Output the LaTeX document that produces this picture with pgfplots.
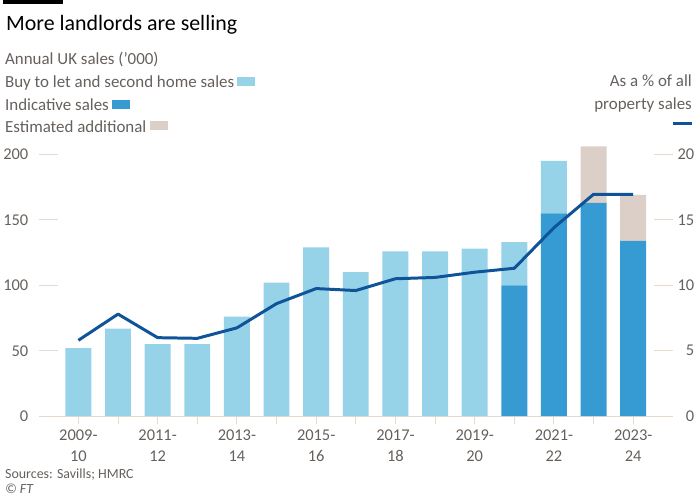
\documentclass[border=0pt]{standalone}
\usepackage{fontspec}
\setmainfont{Carlito}
\usepackage{pgfplots}
\pgfplotsset{compat=1.18}
\definecolor{ftgrey}{HTML}{66605C}
\definecolor{gridc}{HTML}{E6D9CE}
\definecolor{lblue}{HTML}{96D3E8}
\definecolor{dblue}{HTML}{379BD3}
\definecolor{beige}{HTML}{DCCFC7}
\definecolor{oxford}{HTML}{0F5499}
\newcommand{\yl}[2]{#1-\\[1pt]#2}
\begin{document}
\begin{tikzpicture}[x=1pt,y=1pt]
\path (0,0) rectangle (700,-500);
\fill[black] (0,0) rectangle (60,-4);
\node[anchor=base west, inner sep=0, font=\fontsize{22}{24}\selectfont] at (3,-31) {More landlords are selling};
\begin{scope}[every node/.style={anchor=base west, inner sep=0, text=ftgrey, font=\fontsize{17}{20}\selectfont}]
\node at (2,-65) {Annual UK sales ('000)};
\node (a) at (2,-87.5) {Buy to let and second home sales};
\node (b) at (2,-110.5) {Indicative sales};
\node (c) at (2,-133) {Estimated additional};
\end{scope}
\fill[lblue] (235,-77) rectangle (253,-86);
\fill[dblue] (110,-100) rectangle (128,-109);
\fill[beige] (148,-122) rectangle (166,-131);
\begin{scope}[every node/.style={anchor=base east, inner sep=0, text=ftgrey, font=\fontsize{17}{20}\selectfont}]
\node at (692,-87) {As a \% of all};
\node at (692,-110) {property sales};
\end{scope}
\draw[oxford, line width=3pt] (673,-124) -- (692,-124);
\node[anchor=base west, inner sep=0, text=ftgrey, font=\fontsize{14}{16}\selectfont] at (2,-481) {Sources: Savills; HMRC};
\node[anchor=base west, inner sep=0, text=ftgrey, font=\fontsize{14}{16}\selectfont\itshape] at (2,-496) {© FT};

% stubs (both sides), right labels and percentage line
\begin{axis}[at={(36pt,-418pt)}, anchor=south west, scale only axis,
  width=636.7pt, height=263pt, xmin=-1, xmax=15, ymin=0, ymax=20,
  clip=false, hide x axis,
  axis y line=box, y axis line style={draw=none},
  ytick={0,5,10,15,20}, ytick pos=both, yticklabel pos=right,
  tick align=inside, major tick length=19pt,
  every tick/.style={gridc, line width=1pt},
  yticklabel style={text=ftgrey, font=\fontsize{16.5}{20}\selectfont, anchor=east, xshift=25pt},
  /pgf/number format/assume math mode=true,
]
\end{axis}

\begin{axis}[at={(36pt,-418pt)}, anchor=south west, scale only axis,
  width=636.7pt, height=263pt, xmin=-1, xmax=15, ymin=0, ymax=200,
  clip=false, ybar stacked, bar width=26pt,
  axis x line*=bottom, axis y line*=left,
  x axis line style={gridc, line width=1pt, -},
  y axis line style={draw=none},
  xtick={0,...,14},
  xticklabels={{\yl{2009}{10}},{},{\yl{2011}{12}},{},{\yl{2013}{14}},{},{\yl{2015}{16}},{},{\yl{2017}{18}},{},{\yl{2019}{20}},{},{\yl{2021}{22}},{},{\yl{2023}{24}}},
  xticklabel style={align=center, text=ftgrey, font=\fontsize{16.5}{20}\selectfont, yshift=-2pt},
  ytick={0,50,100,150,200},
  y tick style={draw=none},
  yticklabel style={text=ftgrey, font=\fontsize{16.5}{20}\selectfont, xshift=1pt},
  tick align=outside,
  x tick style={gridc, line width=1pt},
  major tick length=8pt,
  /pgf/number format/assume math mode=true,
]
% Indicative sales
\addplot[fill=dblue, draw=none] coordinates {(0,0) (1,0) (2,0) (3,0) (4,0) (5,0) (6,0) (7,0) (8,0) (9,0) (10,0) (11,100) (12,155) (13,163) (14,134)};
% Buy to let and second home sales (remainder)
\addplot[fill=lblue, draw=none] coordinates {(0,52) (1,67) (2,55) (3,55) (4,76) (5,102) (6,129) (7,110) (8,126) (9,126) (10,128) (11,33) (12,40) (13,0) (14,0)};
% Estimated additional
\addplot[fill=beige, draw=none] coordinates {(0,0) (1,0) (2,0) (3,0) (4,0) (5,0) (6,0) (7,0) (8,0) (9,0) (10,0) (11,0) (12,0) (13,43) (14,35)};
\end{axis}

\begin{axis}[at={(36pt,-418pt)}, anchor=south west, scale only axis,
  width=636.7pt, height=263pt, xmin=-1, xmax=15, ymin=0, ymax=20,
  clip=false, hide axis]
\addplot[oxford, line width=3pt, line join=round, mark=none] coordinates {(0,5.8) (1,7.8) (2,6.0) (3,5.95) (4,6.75) (5,8.6) (6,9.75) (7,9.6) (8,10.5) (9,10.6) (10,11.0) (11,11.3) (12,14.4) (13,16.95) (14,16.95)};
\end{axis}
\end{tikzpicture}
\end{document}
